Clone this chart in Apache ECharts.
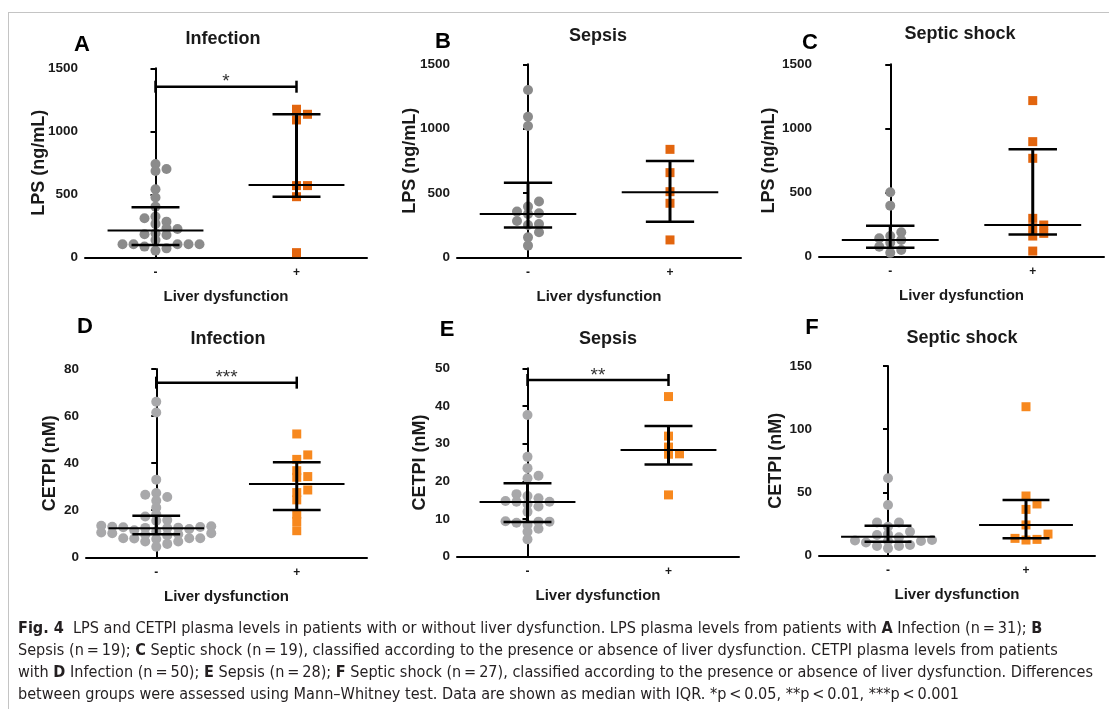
<!DOCTYPE html>
<html>
<head>
<meta charset="utf-8">
<title>LPS and CETPI vs liver dysfunction</title>
<script src="https://cdn.jsdelivr.net/npm/echarts@6/dist/echarts.min.js"></script>
<style>
  html, body { margin: 0; padding: 0; background: #fff; }
  #wrap { position: relative; width: 1109px; height: 709px; overflow: hidden; }
  #chart { position: absolute; left: 0; top: 0; width: 1109px; height: 709px; }
  #frame { position: absolute; left: 8px; top: 12px; width: 1200px; height: 800px;
           border-left: 1px solid #c4c4c4; border-top: 1px solid #c4c4c4; }
  #caption { position: absolute; left: 18px; top: 617px; color: #231f20;
             font-family: "Liberation Sans Narrow", "DejaVu Sans Condensed", "Liberation Sans", sans-serif;
             font-size: 16.1px; line-height: 22px; white-space: nowrap; }
</style>
</head>
<body>
<div id="wrap">
  <div id="frame"></div>
  <div id="chart"></div>
  <div id="caption">
    <div><b>Fig. 4</b>&nbsp; LPS and CETPI plasma levels in patients with or without liver dysfunction. LPS plasma levels from patients with <b>A</b> Infection (n&#8201;=&#8201;31); <b>B</b></div>
    <div>Sepsis (n&#8201;=&#8201;19); <b>C</b> Septic shock (n&#8201;=&#8201;19), classified according to the presence or absence of liver dysfunction. CETPI plasma levels from patients</div>
    <div>with <b>D</b> Infection (n&#8201;=&#8201;50); <b>E</b> Sepsis (n&#8201;=&#8201;28); <b>F</b> Septic shock (n&#8201;=&#8201;27), classified according to the presence or absence of liver dysfunction. Differences</div>
    <div>between groups were assessed using Mann&ndash;Whitney test. Data are shown as median with IQR. *p&#8201;&lt;&#8201;0.05, **p&#8201;&lt;&#8201;0.01, ***p&#8201;&lt;&#8201;0.001</div>
  </div>
</div>

<script>
// groups on the x axis
const groups = ['-', '+']

// y tick labels
const lpsTicks = [0, 500, 1000, 1500]
const cetpInfTicks = [0, 20, 40, 60, 80]
const cetpSepTicks = [0, 10, 20, 30, 40, 50]
const cetpShockTicks = [0, 50, 100, 150]

// A - LPS, infection
const lpsInfNeg = [741, 701, 685, 540, 474, 402, 323, 310, 283, 265, 230, 225, 190, 183, 177, 138, 103, 103, 103, 103, 103, 85, 71, 53]
const lpsInfPos = [1175, 1135, 1090, 569, 569, 481, 37]
const lpsInfStats = [[212, 98, 397], [574, 481, 1135]] // median, q1, q3
const lpsInfSig = [1354, '*']

// B - LPS, sepsis
const lpsSepNeg = [1300, 1093, 1021, 433, 394, 355, 342, 337, 282, 259, 251, 194, 155, 91]
const lpsSepPos = [839, 658, 510, 420, 135]
const lpsSepStats = [[337, 231, 580], [505, 277, 749]]

// C - LPS, septic shock
const lpsShockNeg = [502, 398, 190, 161, 143, 130, 109, 78, 52, 30]
const lpsShockPos = [1217, 897, 767, 299, 247, 226, 182, 161, 44]
const lpsShockStats = [[130, 70, 242], [247, 174, 837]]

// D - CETPI, infection
const cetpInfNeg = [66.1, 61.5, 33.0, 27.3, 26.6, 25.6, 24.0, 21.1, 18.3, 17.3, 15.8, 15.5, 13.4, 13.2, 13.0, 12.9, 12.8, 12.6, 12.5,
  12.4, 12.0, 11.5, 11.0, 10.5, 10.2, 10.2, 9.8, 9.6, 9.3, 8.1, 8.1, 8.1, 8.0, 7.8, 6.7, 6.7, 5.7, 4.5]
const cetpInfPos = [52.4, 43.5, 41.6, 36.8, 34.3, 34.0, 28.6, 27.5, 24.4, 18.3, 15.2, 11.3]
const cetpInfStats = [[12.3, 9.8, 17.6], [31.1, 20.1, 40.4]]
const cetpInfSig = [74.2, '***']

// E - CETPI, sepsis
const cetpSepNeg = [37.6, 26.5, 23.5, 21.5, 20.8, 16.6, 16.1, 15.5, 14.8, 14.6, 14.6, 14.0, 13.3, 11.9, 9.4, 9.3, 9.3, 9.0, 8.4, 7.4, 6.6, 4.6]
const cetpSepPos = [42.5, 32.0, 29.1, 27.3, 27.2, 16.4]
const cetpSepStats = [[14.5, 9.2, 19.5], [28.3, 24.5, 34.7]]
const cetpSepSig = [46.9, '**']

// F - CETPI, septic shock
const cetpShockNeg = [61.2, 40.1, 26.2, 26.2, 22.9, 19.0, 16.9, 16.4, 14.5, 12.4, 12.0, 11.6, 11.6, 10.5, 8.5, 7.7, 7.7, 5.8]
const cetpShockPos = [117.8, 47.2, 40.9, 36.6, 24.3, 17.1, 13.7, 12.9, 12.4]
const cetpShockStats = [[15.0, 11.1, 23.7], [24.3, 13.7, 44.0]]

const FONT = '"Liberation Sans", Arial, sans-serif'
const INK = '#1a1a1a'

// layout per panel: box = [left, top, width, height]
const panels = [
  { letter: 'A', title: 'Infection', yName: 'LPS (ng/mL)', ticks: lpsTicks, neg: lpsInfNeg, pos: lpsInfPos, stats: lpsInfStats, sig: lpsInfSig,
    box: [85, 68.3, 282, 189], titleAt: [223, 39], letterAt: [82, 45], nameGap: 37, grey: '#8b8b8b', orange: '#e2650e' },
  { letter: 'B', title: 'Sepsis', yName: 'LPS (ng/mL)', ticks: lpsTicks, neg: lpsSepNeg, pos: lpsSepPos, stats: lpsSepStats, sig: null,
    box: [457, 64.3, 284, 193], titleAt: [598, 36], letterAt: [443, 42], nameGap: 38, grey: '#8b8b8b', orange: '#e2650e' },
  { letter: 'C', title: 'Septic shock', yName: 'LPS (ng/mL)', ticks: lpsTicks, neg: lpsShockNeg, pos: lpsShockPos, stats: lpsShockStats, sig: null,
    box: [819, 64.3, 285, 192.4], titleAt: [960, 34], letterAt: [810, 43], nameGap: 41, grey: '#8b8b8b', orange: '#e2650e' },
  { letter: 'D', title: 'Infection', yName: 'CETPI (nM)', ticks: cetpInfTicks, neg: cetpInfNeg, pos: cetpInfPos, stats: cetpInfStats, sig: cetpInfSig,
    box: [86, 369, 281, 188.3], titleAt: [228, 339], letterAt: [85, 327], nameGap: 27, grey: '#a8a8aa', orange: '#f7881e' },
  { letter: 'E', title: 'Sepsis', yName: 'CETPI (nM)', ticks: cetpSepTicks, neg: cetpSepNeg, pos: cetpSepPos, stats: cetpSepStats, sig: cetpSepSig,
    box: [457, 368.3, 282, 188.4], titleAt: [608, 339], letterAt: [447, 330], nameGap: 28, grey: '#a8a8aa', orange: '#f7881e' },
  { letter: 'F', title: 'Septic shock', yName: 'CETPI (nM)', ticks: cetpShockTicks, neg: cetpShockNeg, pos: cetpShockPos, stats: cetpShockStats, sig: null,
    box: [819, 366, 276, 189.7], titleAt: [962, 338], letterAt: [812, 328], nameGap: 34, grey: '#a8a8aa', orange: '#f7881e' }
]

// spread points sideways like a column scatter (no randomness, just avoids overlaps)
function swarm(values, catIndex, box, maxY) {
  const pxY = box[3] / maxY
  const pxCat = box[2] / 2
  const step = 11
  const minDy = 6.5
  const order = values.map((v, i) => i).sort((a, b) => values[a] - values[b])
  const placed = []
  const out = []
  order.forEach(i => {
    const y = values[i] * pxY
    for (let k = 0; k < 80; k++) {
      const m = k === 0 ? 0 : (k % 2 ? (k + 1) / 2 : -k / 2)
      const x = m * step
      const free = placed.every(p => Math.abs(p.x - x) > step * 0.9 || Math.abs(p.y - y) >= minDy)
      if (free) {
        placed.push({ x, y })
        out[i] = [catIndex + x / pxCat, values[i]]
        break
      }
    }
  })
  return out
}

function statsRender(params, api) {
  const c = api.value(0)
  const med = api.value(1)
  const q1 = api.value(2)
  const q3 = api.value(3)
  const mL = api.coord([c - 0.34, med])
  const mR = api.coord([c + 0.34, med])
  const lo = api.coord([c, q1])
  const hi = api.coord([c, q3])
  const cap = (v) => {
    const a = api.coord([c - 0.17, v])
    const b = api.coord([c + 0.17, v])
    return { type: 'line', shape: { x1: a[0], y1: a[1], x2: b[0], y2: b[1] }, style: { stroke: '#000', lineWidth: 2.5 } }
  }
  return {
    type: 'group',
    children: [
      { type: 'line', shape: { x1: lo[0], y1: lo[1], x2: hi[0], y2: hi[1] }, style: { stroke: '#000', lineWidth: 3 } },
      cap(q1),
      cap(q3),
      { type: 'line', shape: { x1: mL[0], y1: mL[1], x2: mR[0], y2: mR[1] }, style: { stroke: '#000', lineWidth: 2 } }
    ]
  }
}

function sigRender(params, api) {
  const a = api.coord([api.value(0), api.value(2)])
  const b = api.coord([api.value(1), api.value(2)])
  const mark = api.value(3)
  return {
    type: 'group',
    children: [
      { type: 'line', shape: { x1: a[0], y1: a[1], x2: b[0], y2: b[1] }, style: { stroke: '#000', lineWidth: 2.5 } },
      { type: 'line', shape: { x1: a[0], y1: a[1] - 6, x2: a[0], y2: a[1] + 6 }, style: { stroke: '#000', lineWidth: 2.5 } },
      { type: 'line', shape: { x1: b[0], y1: b[1] - 6, x2: b[0], y2: b[1] + 6 }, style: { stroke: '#000', lineWidth: 2.5 } },
      { type: 'text', x: (a[0] + b[0]) / 2, y: a[1] + 5,
        style: { text: mark, fill: '#333', font: '19px ' + FONT, textAlign: 'center', textVerticalAlign: 'bottom' } }
    ]
  }
}

const grid = []
const xAxis = []
const yAxis = []
const series = []
const graphic = []

panels.forEach((p, i) => {
  const maxY = p.ticks[p.ticks.length - 1]
  grid.push({ left: p.box[0], top: p.box[1], width: p.box[2], height: p.box[3], containLabel: false, outerBoundsMode: 'none' })

  xAxis.push({
    type: 'category', gridIndex: i, data: groups,
    axisLine: { lineStyle: { color: '#000', width: 2 } },
    axisTick: { alignWithLabel: true, length: 5, lineStyle: { color: '#000', width: 2 } },
    axisLabel: { color: INK, fontFamily: FONT, fontWeight: 'bold', fontSize: 12, margin: 9 },
    name: 'Liver dysfunction', nameLocation: 'middle', nameGap: 32, nameMoveOverlap: false,
    nameTextStyle: { color: INK, fontFamily: FONT, fontWeight: 'bold', fontSize: 15 },
    splitLine: { show: false }
  })
  xAxis.push({ type: 'value', gridIndex: i, min: -0.5, max: 1.5, show: false })

  yAxis.push({
    type: 'value', gridIndex: i, min: p.ticks[0], max: maxY, interval: p.ticks[1] - p.ticks[0],
    axisLine: { show: true, lineStyle: { color: '#000', width: 2 } },
    axisTick: { show: true, length: 5, lineStyle: { color: '#000', width: 2 } },
    axisLabel: { color: INK, fontFamily: FONT, fontWeight: 'bold', fontSize: 13.5, margin: 7,
      formatter: v => String(v) },
    splitLine: { show: false },
    name: p.yName, nameLocation: 'middle', nameGap: p.nameGap, nameMoveOverlap: false,
    nameTextStyle: { color: INK, fontFamily: FONT, fontWeight: 'bold', fontSize: 18 }
  })

  const xi = 2 * i + 1
  series.push({
    type: 'scatter', xAxisIndex: xi, yAxisIndex: i, symbol: 'circle', symbolSize: 10,
    itemStyle: { color: p.grey, opacity: 1 }, data: swarm(p.neg, 0, p.box, maxY), z: 2, silent: true
  })
  series.push({
    type: 'scatter', xAxisIndex: xi, yAxisIndex: i, symbol: 'rect', symbolSize: 9,
    itemStyle: { color: p.orange, opacity: 1 }, data: swarm(p.pos, 1, p.box, maxY), z: 2, silent: true
  })
  series.push({
    type: 'custom', xAxisIndex: xi, yAxisIndex: i, renderItem: statsRender, z: 5, silent: true,
    encode: { x: 0, y: [1, 2, 3] },
    data: p.stats.map((s, c) => [c, s[0], s[1], s[2]])
  })
  if (p.sig) {
    series.push({
      type: 'custom', xAxisIndex: xi, yAxisIndex: i, renderItem: sigRender, z: 5, silent: true,
      encode: { x: [0, 1], y: 2 },
      dimensions: ['from', 'to', 'level', { name: 'mark', type: 'ordinal' }],
      data: [[0, 1, p.sig[0], p.sig[1]]]
    })
  }

  graphic.push({
    type: 'text', x: p.titleAt[0], y: p.titleAt[1], silent: true,
    style: { text: p.title, fill: INK, font: 'bold 18px ' + FONT, textAlign: 'center', textVerticalAlign: 'middle' }
  })
  graphic.push({
    type: 'text', x: p.letterAt[0], y: p.letterAt[1], silent: true,
    style: { text: p.letter, fill: '#000', font: 'bold 22px ' + FONT, textAlign: 'center', textVerticalAlign: 'middle' }
  })
})

const chart = echarts.init(document.getElementById('chart'), null, { renderer: 'canvas' })
chart.setOption({
  animation: false,
  backgroundColor: 'transparent',
  textStyle: { fontFamily: FONT },
  grid: grid,
  xAxis: xAxis,
  yAxis: yAxis,
  series: series,
  graphic: graphic
})
</script>
</body>
</html>
